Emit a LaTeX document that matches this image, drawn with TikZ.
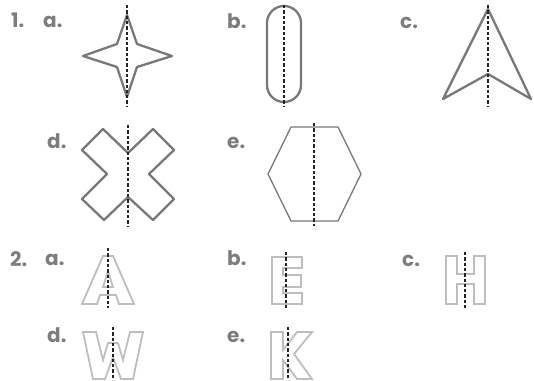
\documentclass[tikz,border=0pt]{standalone}
\usepackage{fontspec}
\setmainfont{Poppins}
\definecolor{labelgray}{RGB}{125,125,125}
\definecolor{shapegray}{RGB}{120,120,120}
\definecolor{lettergray}{RGB}{190,190,190}
\definecolor{symgray}{RGB}{35,35,35}

\begin{document}
\begin{tikzpicture}[x=1pt, y=-1pt,
  lbl/.style={font=\fontsize{20}{20}\selectfont\bfseries, text=labelgray, inner sep=0pt, anchor=base west},
  shp/.style={draw=shapegray, line width=2.3pt, line join=round},
  thinshp/.style={draw=shapegray, line width=1.3pt, line join=round},
  ltr/.style={draw=lettergray, line width=1.8pt},
  symline/.style={draw=symgray, line width=1.1pt, dash pattern=on 3.3pt off 2pt}
]
  \useasboundingbox (0,0) rectangle (534,380);

  % part 1 labels
  \node[lbl] (n1) at (11,27) {1.};
  \node[lbl] (n1a) at (43,27) {a.};
  \node[lbl] (n1b) at (227,28) {b.};
  \node[lbl] (n1c) at (400,28) {c.};
  \node[lbl] (n1d) at (47,148) {d.};
  \node[lbl] (n1e) at (227,148) {e.};

  % star
  \draw[shp] (127,15) -- (137,44) -- (172,56) -- (137,67) -- (127,97)
    -- (117,67) -- (83,56) -- (117,44) -- cycle;
  \draw[symline] (127,5) -- (127,107);

  % stadium
  \draw[shp, rounded corners=17pt] (267,6) rectangle (301,102);
  \draw[symline] (284,5) -- (284,107);

  % arrow head
  \draw[shp] (488,9) -- (531,99) -- (488,74) -- (443,99) -- cycle;
  \draw[symline] (488,5) -- (488,107);

  % cross
  \draw[shp] (103,129) -- (128,153) -- (153,129) -- (174,150) -- (149,174)
    -- (174,199) -- (153,220) -- (128,197) -- (104,220) -- (82,199)
    -- (107,174) -- (82,150) -- cycle;
  \draw[symline] (128,125) -- (128,226);

  % hexagon
  \draw[thinshp] (291,127) -- (338,127) -- (361,174) -- (338,221)
    -- (291,221) -- (268,174) -- cycle;
  \draw[symline] (314,123) -- (314,226);

  % part 2 labels
  \node[lbl] (n2) at (10,266) {2.};
  \node[lbl] (n2a) at (45,265) {a.};
  \node[lbl] (n2b) at (227,265) {b.};
  \node[lbl] (n2c) at (402,266) {c.};
  \node[lbl] (n2d) at (47,342) {d.};
  \node[lbl] (n2e) at (227,342) {e.};

  % A
  \draw[ltr] (103,256) -- (113,256) -- (134,304) -- (119,304) -- (116,295)
    -- (100,295) -- (97,304) -- (82,304) -- cycle;
  \draw[ltr] (108,271) -- (113,287) -- (103,287) -- cycle;
  \draw[symline] (108,248) -- (108,308);

  % E
  \draw[ltr] (272,257) -- (302,257) -- (302,268) -- (283,268) -- (283,275)
    -- (301,275) -- (301,287) -- (283,287) -- (283,293) -- (302,293)
    -- (302,304) -- (272,304) -- cycle;
  \draw[symline] (286,252) -- (286,308);

  % H
  \draw[ltr] (446,256) -- (457,256) -- (457,274) -- (474,274) -- (474,256)
    -- (485,256) -- (485,304) -- (474,304) -- (474,284) -- (457,284)
    -- (457,304) -- (446,304) -- cycle;
  \draw[symline] (465,252) -- (465,308);

  % W
  \draw[ltr] (83,332) -- (96,332) -- (103,360) -- (108,343) -- (118,343)
    -- (123,360) -- (130,332) -- (143,332) -- (133,379) -- (121,379)
    -- (113,357) -- (105,379) -- (93,379) -- cycle;
  \draw[symline] (113,327) -- (113,380);

  % K
  \draw[ltr] (271,332) -- (283,332) -- (283,350) -- (297,332) -- (312,332)
    -- (294,354) -- (312,379) -- (297,379) -- (283,360) -- (283,379)
    -- (271,379) -- cycle;
  \draw[symline] (288,327) -- (288,380);
\end{tikzpicture}
\end{document}
